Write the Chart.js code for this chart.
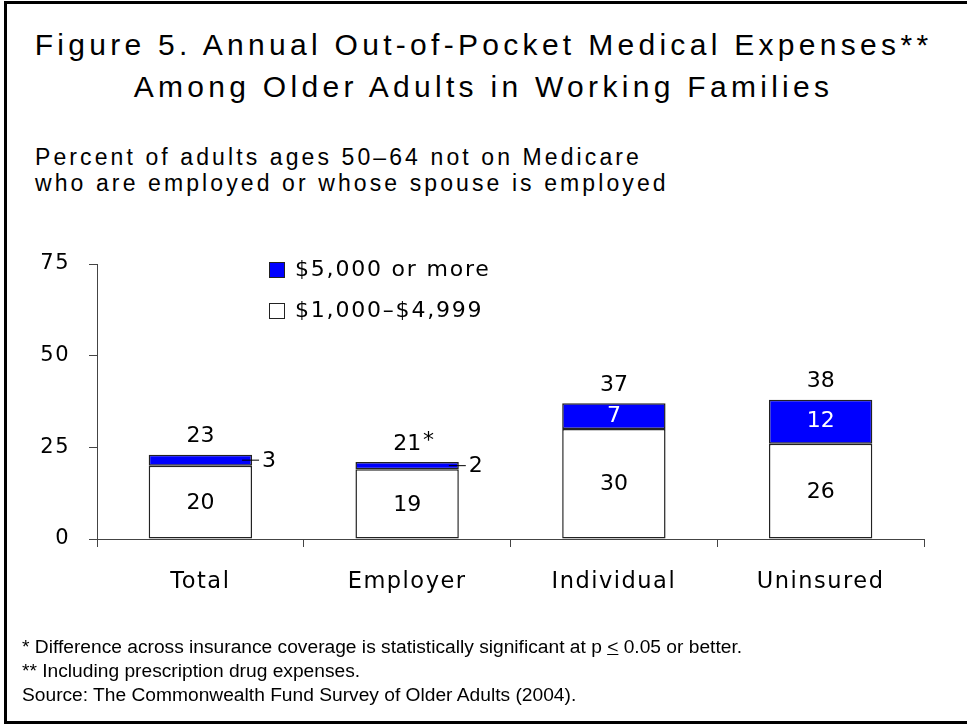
<!DOCTYPE html>
<html>
<head>
<meta charset="utf-8">
<script src="https://cdn.jsdelivr.net/npm/chart.js@4.4.1/dist/chart.umd.min.js"></script>
<style>
  html, body { margin: 0; padding: 0; background: #fff; }
  body { width: 967px; height: 725px; position: relative; overflow: hidden; }
  .frame { position: absolute; left: 4px; top: 1px; width: 990px; height: 723px; border: 3px solid #000; box-sizing: border-box; }
  .title { position: absolute; left: 0; top: 24px; width: 967px; text-align: center; font-family: "Liberation Sans", Arial, sans-serif; font-size: 30px; letter-spacing: 4.3px; line-height: 42px; color: #000; }
  .subtitle { position: absolute; left: 35px; top: 144px; font-family: "Liberation Sans", Arial, sans-serif; font-size: 23px; letter-spacing: 3.1px; line-height: 26px; color: #000; }
  .notes { position: absolute; left: 22px; top: 635px; font-family: "Liberation Sans", Arial, sans-serif; font-size: 19.2px; line-height: 24px; color: #000; }
  canvas { position: absolute; left: 0; top: 0; }
</style>
</head>
<body>
<div class="frame"></div>
<div class="title">Figure 5. Annual Out-of-Pocket Medical Expenses**<br>Among Older Adults in Working Families</div>
<div class="subtitle">Percent of adults ages 50–64 not on Medicare<br>who are employed or whose spouse is employed</div>
<canvas id="chart" width="967" height="725"></canvas>
<div class="notes">
  * Difference across insurance coverage is statistically significant at p <u>&lt;</u> 0.05 or better.<br>
  ** Including prescription drug expenses.<br>
  Source: The Commonwealth Fund Survey of Older Adults (2004).
</div>
<script>
const categories = ['Total', 'Employer', 'Individual', 'Uninsured'];
const seriesNames = ['$1,000–$4,999', '$5,000 or more'];
const midValues = [20, 19, 30, 26];   // $1,000-$4,999
const highValues = [3, 2, 7, 12];     // $5,000 or more
const totalValues = [23, 21, 37, 38];
const totalMarks = ['', '*', '', ''];
const yTicks = [0, 25, 50, 75];

const FONT = '"DejaVu Sans", Verdana, sans-serif';

// spacing a bit wider like the original
const spacing = {
    id: 'spacing',
    beforeLayout(chart) { chart.ctx.letterSpacing = '1.5px'; },
    beforeDraw(chart) { chart.ctx.letterSpacing = '1.5px'; }
};

const barLabels = {
    id: 'barLabels',
    afterDatasetsDraw(chart) {
        const ctx = chart.ctx;
        const lo = chart.getDatasetMeta(0).data;
        const hi = chart.getDatasetMeta(1).data;
        ctx.save();
        ctx.letterSpacing = '0px';
        ctx.font = '22px ' + FONT;
        ctx.textBaseline = 'middle';
        categories.forEach((c, i) => {
            const a = lo[i], b = hi[i];
            ctx.textAlign = 'center';
            ctx.fillStyle = '#000';
            ctx.fillText(midValues[i], a.x, (a.y + a.base) / 2 + 1);

            const top = String(totalValues[i]);
            const ty = b.y - 18;
            ctx.fillText(top, b.x, ty);
            if (totalMarks[i]) {
                ctx.textAlign = 'left';
                ctx.fillText(totalMarks[i], b.x + ctx.measureText(top).width / 2 + 2, ty - 3);
            }

            const h = b.base - b.y;
            const cy = (b.y + b.base) / 2;
            if (h > 20) {
                ctx.textAlign = 'center';
                ctx.fillStyle = '#fff';
                ctx.fillText(highValues[i], b.x, cy);
            } else {
                // small segment: leader line and label on the right
                const right = b.x + b.width / 2;
                ctx.strokeStyle = '#000';
                ctx.lineWidth = 1;
                ctx.beginPath();
                ctx.moveTo(right - 10, cy);
                ctx.lineTo(right + 7, cy);
                ctx.stroke();
                ctx.textAlign = 'left';
                ctx.fillStyle = '#000';
                ctx.fillText(highValues[i], right + 10, cy + 1);
            }
        });
        ctx.restore();
    }
};

const legendBox = {
    id: 'legendBox',
    afterDraw(chart) {
        const { ctx, chartArea } = chart;
        const x = chartArea.left + 172;
        ctx.save();
        ctx.letterSpacing = '1.8px';
        ctx.font = '22px ' + FONT;
        ctx.textAlign = 'left';
        ctx.textBaseline = 'middle';
        chart.data.datasets.slice().reverse().forEach((ds, k) => {
            const cy = chartArea.top + 6 + k * 41;
            ctx.fillStyle = ds.backgroundColor;
            ctx.fillRect(x, cy - 8, 16, 16);
            ctx.strokeStyle = '#222';
            ctx.lineWidth = 1;
            ctx.strokeRect(x + 0.5, cy - 7.5, 15, 15);
            ctx.fillStyle = '#000';
            ctx.fillText(ds.label, x + 26, cy);
        });
        ctx.restore();
    }
};

new Chart(document.getElementById('chart'), {
    type: 'bar',
    data: {
        labels: categories,
        datasets: [
            {
                label: seriesNames[0],
                data: midValues,
                backgroundColor: '#ffffff',
                borderColor: '#222',
                borderWidth: 1.5,
                borderSkipped: false,
                barPercentage: 0.5,
                categoryPercentage: 1.0
            },
            {
                label: seriesNames[1],
                data: highValues,
                backgroundColor: '#0000ff',
                borderColor: '#222',
                borderWidth: 1.5,
                borderSkipped: false,
                barPercentage: 0.5,
                categoryPercentage: 1.0
            }
        ]
    },
    options: {
        responsive: false,
        devicePixelRatio: 1,
        animation: false,
        layout: { padding: { top: 264, right: 43, left: 0, bottom: 0 } },
        plugins: {
            legend: { display: false },
            tooltip: { enabled: false }
        },
        scales: {
            x: {
                stacked: true,
                grid: { offset: true, drawOnChartArea: false, tickLength: 8, color: '#444' },
                border: { color: '#444', width: 1 },
                ticks: { color: '#000', font: { family: FONT, size: 22.5 }, padding: 22 },
                afterFit(scale) { scale.height = 186; }
            },
            y: {
                stacked: true,
                min: 0,
                max: 75,
                afterBuildTicks(scale) { scale.ticks = yTicks.map(v => ({ value: v })); },
                grid: { drawOnChartArea: false, tickLength: 8, color: '#444' },
                border: { color: '#444', width: 1 },
                ticks: { color: '#000', font: { family: FONT, size: 21 }, padding: 19 },
                afterFit(scale) { scale.width = 97; }
            }
        }
    },
    plugins: [spacing, barLabels, legendBox]
});
</script>
</body>
</html>
